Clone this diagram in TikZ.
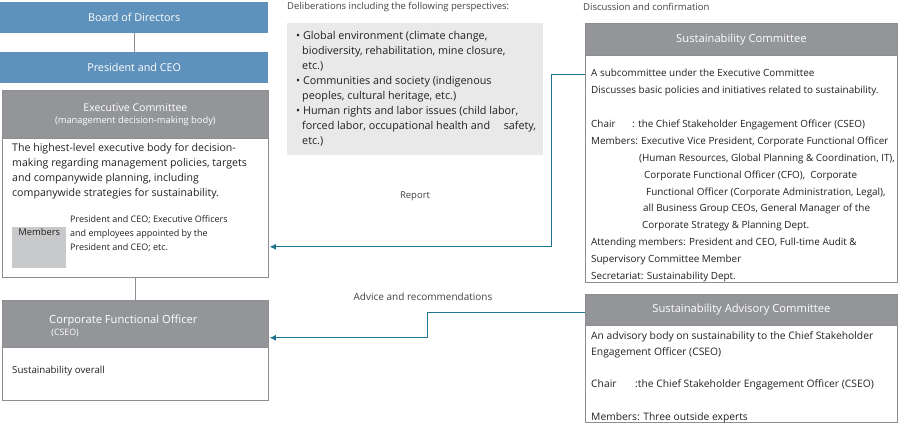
\documentclass[tikz,border=0pt]{standalone}
\usepackage{fontspec}
\setmainfont{Open Sans}
\usepackage{tikz}
\usetikzlibrary{positioning}
\usetikzlibrary{arrows.meta}
\definecolor{boardblue}{HTML}{5E91BC}
\definecolor{headgray}{HTML}{939598}
\definecolor{framegray}{HTML}{8E8E91}
\definecolor{palegray}{HTML}{E9E9EA}
\definecolor{taggray}{HTML}{C8C9CB}
\definecolor{linkteal}{HTML}{1D7491}
\definecolor{ink}{HTML}{231F20}

\begin{document}
\begin{tikzpicture}[x=1pt,y=-1pt]
        \tikzstyle{bluebox}=[fill=boardblue,anchor=north west,minimum width=268pt,
            minimum height=31pt,inner sep=0pt,text=white,font=\fontsize{10.8}{13}\selectfont]
        \tikzstyle{frame}=[draw=framegray,line width=0.8pt,anchor=north west,
            minimum width=266pt,inner sep=0pt]
        \tikzstyle{headbox}=[fill=headgray,draw=framegray,line width=0.8pt,anchor=north west,
            minimum width=266pt,inner sep=0pt,text=white,align=center]
        \tikzstyle{note}=[anchor=north west,inner sep=0pt,align=left,text=ink]
        \tikzstyle{caption}=[inner sep=0pt,text=ink!85,font=\fontsize{9.5}{11}\selectfont]
        \tikzstyle{tie}=[draw=framegray,line width=0.8pt]
        \tikzstyle{link}=[draw=linkteal,line width=0.9pt,-{Latex[length=6pt,width=6pt]},
            shorten >=1pt]
        \useasboundingbox (0,0) rectangle (900,424);

            % left column
            \node[bluebox] (board) at (0,2) {Board of Directors};
            \node[bluebox] (pres) at (0,52) {President and CEO};
            \draw[tie] (board) -- (pres);

            \node[frame,minimum height=187pt] (exec) at (2,90) {};
            \node[headbox,minimum height=48pt] (exechead) at (2,90)
                {\fontsize{10.6}{17}\selectfont Executive Committee\\
                 \fontsize{9.3}{12}\selectfont (management decision-making body)};
            \node[note,font=\fontsize{10.6}{15.2}\selectfont] (execnote) at (12,143)
                {The highest-level executive body for decision-\\
                 making regarding management policies, targets\\
                 and companywide planning, including\\
                 companywide strategies for sustainability.};
            \node[fill=taggray,anchor=north west,minimum width=54pt,minimum height=41pt,
                inner sep=0pt] (memtag) at (12,227) {};
            \node[anchor=north,inner sep=1.5pt,text=ink,font=\fontsize{9.4}{11}\selectfont]
                (memlabel) at (memtag.north) {Members};
            \node[note,font=\fontsize{9}{14}\selectfont] (memlist) at (70,215)
                {President and CEO; Executive Officers\\
                 and employees appointed by the\\
                 President and CEO; etc.};

            \node[frame,minimum height=100pt] (cfo) at (2,300) {};
            \node[headbox,minimum height=47pt] (cfohead) at (2,300) {};
            \node[anchor=west,inner sep=0pt,text=white,align=left] (cfotitle) at (49,326)
                {\fontsize{11.2}{18}\selectfont Corporate Functional Officer\\
                 \fontsize{8.8}{11}\selectfont\ (CSEO)};
            \node[note,font=\fontsize{9.7}{12}\selectfont] (cfonote) at (12,366)
                {Sustainability overall};
            \draw[tie] (exec) -- (cfo);

            % perspectives
            \node[caption,anchor=west] (delib) at (287,7)
                {Deliberations including the following perspectives:};
            \node[fill=palegray,anchor=north west,minimum width=256pt,minimum height=132pt,
                inner sep=0pt] (topics) at (287,23) {};
            \node[note,font=\fontsize{10.8}{15}\selectfont] (topiclist) at (296,31)
                {\textbullet\ Global environment (climate change,\\
                 \hspace*{6pt}biodiversity, rehabilitation, mine closure,\\
                 \hspace*{6pt}etc.)\\
                 \textbullet\ Communities and society (indigenous\\
                 \hspace*{6pt}peoples, cultural heritage, etc.)\\
                 \textbullet\ Human rights and labor issues (child labor,\\
                 \hspace*{6pt}forced labor, occupational health and \quad safety,\\
                 \hspace*{6pt}etc.)};

            % right column
            \node[caption,anchor=west] (discuss) at (583,7) {Discussion and confirmation};
            \node[frame,minimum width=312pt,minimum height=259pt] (sust) at (585,23) {};
            \node[headbox,minimum width=312pt,minimum height=32pt,
                font=\fontsize{11.2}{13}\selectfont] (susthead) at (585,23)
                {Sustainability Committee};
            \node[note,font=\fontsize{9.9}{16.9}\selectfont] (sustnote) at (591,69)
                {A subcommittee under the Executive Committee\\
                 Discusses basic policies and initiatives related to sustainability.\\[16.9pt]
                 \makebox[41pt][l]{Chair}: the Chief Stakeholder Engagement Officer (CSEO)\\
                 Members: Executive Vice President, Corporate Functional Officer\\
                 \hspace*{48pt}(Human Resources, Global Planning \& Coordination, IT),\\
                 \hspace*{53pt}Corporate Functional Officer (CFO),\ \ Corporate\\
                 \hspace*{55pt}Functional Officer (Corporate Administration, Legal),\\
                 \hspace*{52pt}all Business Group CEOs, General Manager of the\\
                 \hspace*{51pt}Corporate Strategy \& Planning Dept.\\
                 Attending members: President and CEO, Full-time Audit \&\\
                 Supervisory Committee Member\\
                 Secretariat: Sustainability Dept.};

            \node[frame,minimum width=312pt,minimum height=128pt] (adv) at (585,294) {};
            \node[headbox,minimum width=312pt,minimum height=31pt,
                font=\fontsize{11.2}{13}\selectfont] (advhead) at (585,294)
                {Sustainability Advisory Committee};
            \node[note,font=\fontsize{10.3}{16.2}\selectfont] (advnote) at (591,331)
                {An advisory body on sustainability to the Chief Stakeholder\\
                 Engagement Officer (CSEO)\\[16.2pt]
                 \makebox[44pt][l]{Chair}:the Chief Stakeholder Engagement Officer (CSEO)\\[16.2pt]
                 Members: Three outside experts};

            % connectors
            \draw[link] ([yshift=-51pt]sust.north west) -- ++(-34,0)
                |- ([yshift=31pt]exec.south east);
            \node[caption] (report) at (415,196) {Report};
            \draw[link] ([yshift=-18pt]adv.north west) -- ++(-158,0)
                |- ([yshift=10pt]cfohead.south east);
            \node[caption,font=\fontsize{10}{12}\selectfont] (advice) at (423,297)
                {Advice and recommendations};
        \end{tikzpicture}
\end{document}
